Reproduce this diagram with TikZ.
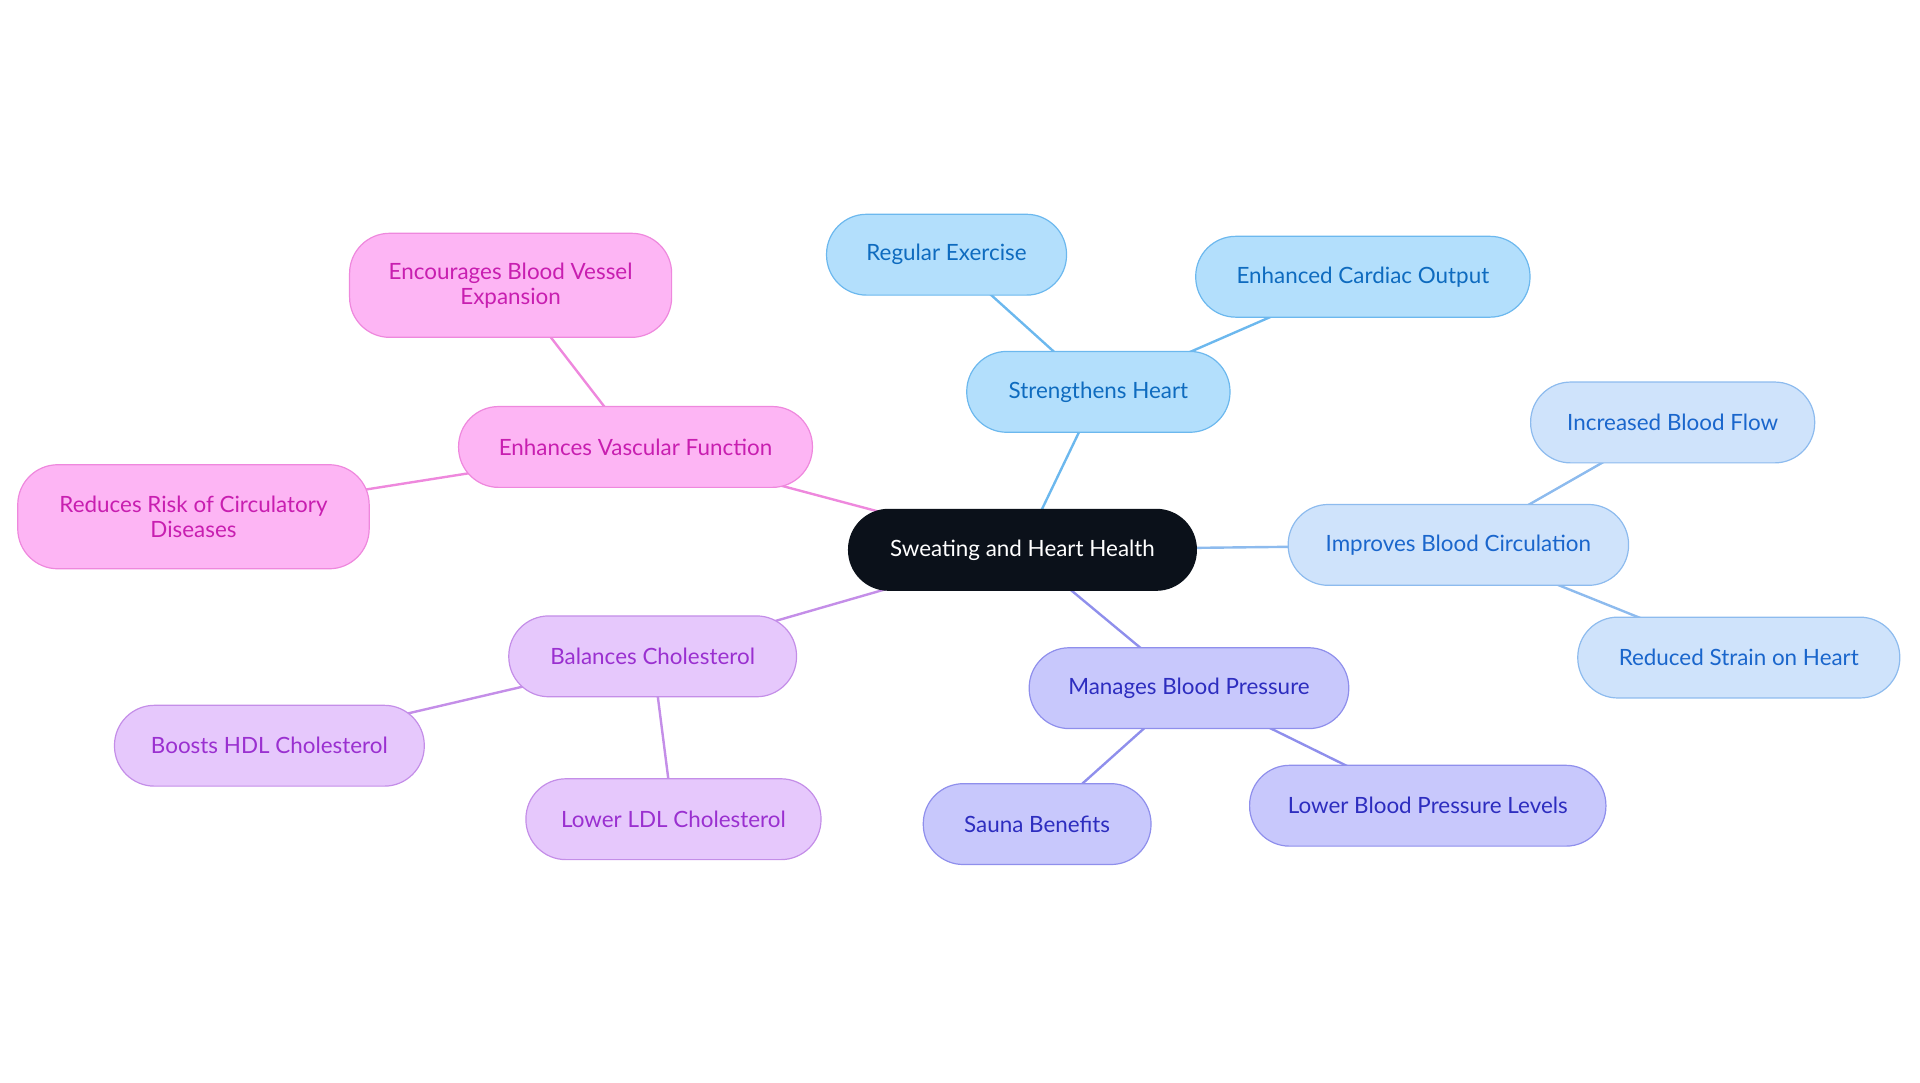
\documentclass[tikz,border=0pt]{standalone}
\usepackage{fontspec}
\setmainfont{Lato}
\usetikzlibrary{backgrounds}
\definecolor{cA}{HTML}{B3DFFC}\definecolor{sA}{HTML}{6CB8EE}\definecolor{tA}{HTML}{0E6BBF}
\definecolor{cB}{HTML}{CFE3FB}\definecolor{sB}{HTML}{8DBBEE}\definecolor{tB}{HTML}{1A66CC}
\definecolor{cC}{HTML}{C8C8FC}\definecolor{sC}{HTML}{8F8FEC}\definecolor{tC}{HTML}{2D2DBF}
\definecolor{cD}{HTML}{E6C8FC}\definecolor{sD}{HTML}{C48EE8}\definecolor{tD}{HTML}{9A30D0}
\definecolor{cE}{HTML}{FDB5F4}\definecolor{sE}{HTML}{EE88DD}\definecolor{tE}{HTML}{C81EB0}
\definecolor{dark}{HTML}{0B111A}
\tikzset{
 box/.style n args={4}{draw=#2,fill=#1,text=#3,line width=0.6pt,rounded corners=20pt,
   minimum width=#4*0.612pt,minimum height=40.4pt,inner sep=0pt,align=center,font=\fontsize{11.2}{12.4}\selectfont},
 ga/.style={box={cA}{sA}{tA}{#1}}, gb/.style={box={cB}{sB}{tB}{#1}},
 gc/.style={box={cC}{sC}{tC}{#1}}, gd/.style={box={cD}{sD}{tD}{#1}},
 ge/.style={box={cE}{sE}{tE}{#1}},
 tall/.style={minimum height=52pt},
 edge/.style={line width=1.2pt,draw=#1}
}
\begin{document}
\begin{tikzpicture}[x=0.612pt,y=-0.612pt]
\useasboundingbox (0,0) rectangle (1568,884);
\node[box={dark}{dark}{white}{284}] (c) at (835,449) {Sweating and Heart Health};
\node[ga=215] (sh) at (897,320) {Strengthens Heart};
\node[ga=196] (re) at (773,208) {Regular Exercise};
\node[ga=273] (ec) at (1113,226) {Enhanced Cardiac Output};
\node[gb=278] (ib) at (1191,445) {Improves Blood Circulation};
\node[gb=232] (if) at (1366,345) {Increased Blood Flow};
\node[gb=263] (rs) at (1420,537) {Reduced Strain on Heart};
\node[gc=261] (mb) at (971,562) {Manages Blood Pressure};
\node[gc=186] (sb) at (847,673) {Sauna Benefits};
\node[gc=291] (lb) at (1166,658) {Lower Blood Pressure Levels};
\node[gd=235] (bc) at (533,536) {Balances Cholesterol};
\node[gd=253] (hd) at (220,609) {Boosts HDL Cholesterol};
\node[gd=241] (ld) at (550,669) {Lower LDL Cholesterol};
\node[ge=289] (ev) at (519,365) {Enhances Vascular Function};
\node[ge=263,tall] (eb) at (417,233) {Encourages Blood Vessel\\Expansion};
\node[ge=287,tall] (rr) at (158,422) {Reduces Risk of Circulatory\\Diseases};
\begin{scope}[on background layer]
\draw[edge=sA] (c.center)--(sh.center) (sh.center)--(re.center) (sh.center)--(ec.center);
\draw[edge=sB] (c.center)--(ib.center) (ib.center)--(if.center) (ib.center)--(rs.center);
\draw[edge=sC] (c.center)--(mb.center) (mb.center)--(sb.center) (mb.center)--(lb.center);
\draw[edge=sD] (c.center)--(bc.center) (bc.center)--(hd.center) (bc.center)--(ld.center);
\draw[edge=sE] (c.center)--(ev.center) (ev.center)--(eb.center) (ev.center)--(rr.center);
\end{scope}
\end{tikzpicture}
\end{document}
